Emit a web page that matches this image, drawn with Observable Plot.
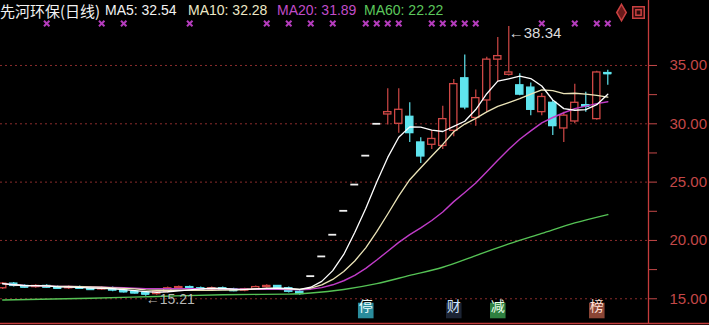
<!DOCTYPE html>
<html><head><meta charset="utf-8">
<script src="https://cdn.jsdelivr.net/npm/d3@7"></script>
<script src="https://cdn.jsdelivr.net/npm/@observablehq/plot@0.6"></script>
<style>
html,body{margin:0;padding:0;background:#000;}
#wrap{position:relative;width:709px;height:325px;overflow:hidden;background:#000;}
#hdr span{position:absolute;top:2px;font:14px "Liberation Sans","Noto Sans CJK SC",sans-serif;white-space:pre;line-height:16px;}
#chart{position:absolute;left:0;top:0;}
</style></head><body>
<div id="wrap"><div id="chart"></div><div id="hdr"></div></div>
<script>
// ---- data ----
const stockName = "先河环保(日线)";
const maLabels = ["MA5: 32.54", "MA10: 32.28", "MA20: 31.89", "MA60: 22.22"];
const days = d3.range(56);
const opens = [15.9,16.3,16.1,16.0,16.1,16.0,15.9,16.0,15.9,15.8,15.9,15.7,15.6,15.5,15.4,15.6,15.9,16.0,15.9,15.8,15.9,15.8,15.7,15.8,16.0,16.1,15.9,15.6,
  16.94,18.63,20.49,22.54,24.79,27.27,30.00,
  30.8,30.0,30.6,28.4,28.2,28.1,29.4,33.9,30.5,32.0,35.5,34.2,33.3,33.1,31.0,31.8,29.6,30.2,31.6,30.4,34.35];
const highs = [16.4,16.4,16.2,16.2,16.2,16.1,16.1,16.1,16.0,16.0,16.0,15.8,15.7,15.6,15.7,16.0,16.1,16.1,16.0,16.0,16.0,15.9,15.9,16.1,16.2,16.1,16.0,15.7,
  16.94,18.63,20.49,22.54,24.79,27.27,30.00,
  33.0,33.0,31.8,28.8,29.4,31.5,33.8,35.9,32.9,35.7,37.4,38.34,34.3,33.5,32.6,32.0,31.0,33.4,32.7,34.5,34.6];
const lows = [15.8,16.0,15.9,15.9,15.9,15.8,15.8,15.8,15.7,15.7,15.6,15.5,15.4,15.21,15.3,15.5,15.8,15.8,15.7,15.7,15.7,15.6,15.6,15.7,15.9,15.8,15.5,15.3,
  16.94,18.63,20.49,22.54,24.79,27.27,30.00,
  29.9,29.2,28.4,26.6,27.8,27.8,28.9,31.2,29.8,31.0,33.6,34.1,32.4,30.7,30.7,29.0,28.4,30.0,31.0,30.3,33.3];
const closes = [16.3,16.1,16.0,16.1,16.0,15.9,16.0,15.9,15.8,15.9,15.7,15.6,15.5,15.4,15.6,15.9,16.0,15.9,15.8,15.9,15.8,15.7,15.8,16.0,16.1,15.9,15.6,15.4,
  16.94,18.63,20.49,22.54,24.79,27.27,30.00,
  31.0,31.2,29.2,27.2,28.7,30.4,33.4,31.4,32.2,35.5,35.8,34.4,32.5,31.2,32.3,29.8,30.7,31.8,31.5,34.4,34.3];
const ma60Days = [0,8,14,20,26,28,31,34,37,40,43,46,49,52,55];
const ma60Vals = [14.9,15.05,15.2,15.35,15.4,15.5,15.8,16.3,17.0,17.7,18.7,19.7,20.6,21.5,22.22];
const markDays = [4,9,11,17,24,26,28,30,33,34,35,36,39,40,41,42,43,49,52,54,55];
const tagDays = [33,41,45,54];
const tagTexts = ["停","财","减","榜"];
const yTicks = [15,17.5,20,22.5,25,27.5,30,32.5,35];
const gridLevels = [15,20,25,30,35];

// ---- build ----
const data = days.map((d,i)=>({day:d, open:opens[i], high:highs[i], low:lows[i], close:closes[i]}));
const RED="#d04846", CYAN="#5fe4ee", WHITE="#f0f0f0";
const isFlat = d => d.open===d.close && d.high===d.low;
const col = d => isFlat(d) ? WHITE : (d.close>=d.open ? RED : CYAN);
const flat = data.filter(isFlat);
const normal = data.filter(d=>!isFlat(d));
const ma60 = ma60Days.map((d,i)=>({day:d, v:ma60Vals[i]}));
const hi = data.reduce((a,b)=> b.high>a.high?b:a);
const lo = data.reduce((a,b)=> b.low<a.low?b:a);
const tags = tagDays.map((d,i)=>({day:d, t:tagTexts[i], i}));
const tagBg = ["#2a8c9c","#1c2434","#2f8040","#8a4535"];
const tagFg = ["#f0ffff","#cfe6ff","#e8ffe8","#ffe0d8"];
const xMin=-0.2, xMax=58.7, xFar=64.3;
const yMin=12.88, yMax=40.57;

const chart = Plot.plot({
  width:709, height:325, marginLeft:0, marginRight:61, marginTop:0, marginBottom:2,
  x:{domain:[xMin,xMax], axis:null},
  y:{domain:[yMin,yMax], axis:null, label:null},
  style:{background:"#000", color:"#c44848", fontFamily:"Liberation Sans, sans-serif", overflow:"visible"},
  marks:[
    Plot.ruleY(gridLevels, {stroke:"#8a2c2c", strokeDasharray:"2,3", strokeWidth:1}),
    Plot.ruleX(normal, {x:"day", y1:"low", y2:"high", stroke:col, strokeWidth:1.2}),
    Plot.rect(normal, {x1:d=>d.day-0.33, x2:d=>d.day+0.33, y1:"open", y2:"close",
      fill:d=> d.close>=d.open ? "#000" : CYAN, stroke:col, strokeWidth:1.3}),
    Plot.ruleY(normal.filter(d=>Math.abs(d.close-d.open)<0.12), {y:"close", x1:d=>d.day-0.36, x2:d=>d.day+0.36, stroke:col, strokeWidth:1.5}),
    Plot.ruleY(flat, {y:"close", x1:d=>d.day-0.36, x2:d=>d.day+0.36, stroke:WHITE, strokeWidth:1.8}),
    Plot.line(ma60, {x:"day", y:"v", stroke:"#55c255", strokeWidth:1.4, curve:"monotone-x"}),
    Plot.lineY(data, Plot.windowY({k:20, anchor:"end"}, {x:"day", y:"close", stroke:"#c03cc8", strokeWidth:1.4})),
    Plot.lineY(data, Plot.windowY({k:10, anchor:"end"}, {x:"day", y:"close", stroke:"#ebe4b8", strokeWidth:1.3})),
    Plot.lineY(data, Plot.windowY({k:5, anchor:"end"}, {x:"day", y:"close", stroke:"#ffffff", strokeWidth:1.3})),
    Plot.dot(markDays, {x:d=>d, frameAnchor:"top", dy:23, symbol:"times", r:2.6, stroke:"#b43cbc", strokeWidth:2}),
    Plot.text([hi], {x:"day", y:"high", text:d=>"←"+d.high.toFixed(2), textAnchor:"start", dx:0, dy:7, fill:"#dcdcdc", fontSize:15}),
    Plot.text([lo], {x:"day", y:"low", text:d=>"←"+d.low.toFixed(2), textAnchor:"start", dx:0, dy:3, fill:"#b8b8b8", fontSize:14}),
    Plot.dot(tags, {x:"day", frameAnchor:"bottom", dy:-13, symbol:"square", r:8.8, fill:d=>tagBg[d.i]}),
    Plot.text(tags, {x:"day", frameAnchor:"bottom", dy:-13, text:"t", fill:d=>tagFg[d.i], fontSize:14, fontFamily:"Noto Sans CJK SC"}),
    Plot.axisY(yTicks, {anchor:"right", tickSize:8, tickPadding:13, fontSize:15, tickFormat:d=> d%5===0 ? d.toFixed(2) : "", stroke:"#c44848", fill:"#c44848"}),
    Plot.ruleX([xMax], {stroke:"#c43c3c", strokeWidth:1.3}),
    Plot.ruleY([yMin], {x1:xMin, x2:xFar, stroke:"#c43c3c", strokeWidth:1.3}),
    Plot.dot([0], {frameAnchor:"top-right", dx:-27, dy:12, symbol:"diamond", r:5, fill:"#6a1a1a", stroke:"#c84040"}),
    Plot.dot([0], {frameAnchor:"top-right", dx:-10, dy:12, symbol:"square", r:6.5, fill:"#2a0a0a", stroke:"#c84040"}),
    Plot.dot([0], {frameAnchor:"top-right", dx:-10, dy:12, symbol:"square", r:3, fill:"none", stroke:"#c84040"})
  ]
});
document.getElementById("chart").appendChild(chart);

const hdr = document.getElementById("hdr");
const hdrItems = [
  {t:stockName, x:0, c:"#f2f2f2", f:'15px "Noto Sans CJK SC","Liberation Sans",sans-serif'},
  {t:maLabels[0], x:105, c:"#f2f2f2"},
  {t:maLabels[1], x:188, c:"#eee8c6"},
  {t:maLabels[2], x:277, c:"#c04cc8"},
  {t:maLabels[3], x:364, c:"#5cc85c"}
];
hdrItems.forEach(h=>{
  const s=document.createElement("span");
  s.textContent=h.t; s.style.left=h.x+"px"; s.style.color=h.c;
  if(h.f){s.style.font=h.f; s.style.top="0px";}
  hdr.appendChild(s);
});
</script>
</body></html>
